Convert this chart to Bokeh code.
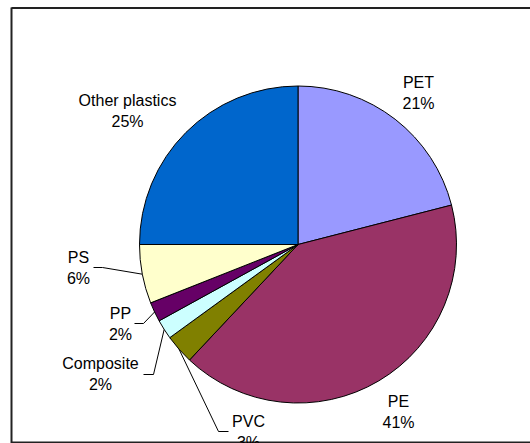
import numpy as np
from bokeh.plotting import figure
from bokeh.models import ColumnDataSource, Range1d
from bokeh.core.properties import value
from bokeh.embed import file_html
from bokeh.resources import INLINE

# ---- data ----
categories = ["PET", "PE", "PVC", "Composite", "PP", "PS", "Other plastics"]
shares = [21, 41, 3, 2, 2, 6, 25]
colors = ["#9999FF", "#993366", "#808000", "#CCFFFF", "#660066", "#FFFFCC", "#0066CC"]

# ---- layout (figure pixel-like coordinates, y up) ----
W, H = 530, 443
cx, cy, R = 297.5, 199.0, 158.5
# label centres (x, y of first line)
label_pos = [(418, 361), (398, 42), (248, 22), (100, 80), (120, 130), (78, 186), (127, 343)]
# leader elbows for small slices: (text-side end, elbow)
leaders = {
    "PVC": [(228, 12), (218, 12)],
    "Composite": [(143, 69), (153, 69)],
    "PP": [(134, 120), (143, 120)],
    "PS": [(93, 176), (102, 176)],
}
line_gap = 21

vals = np.array(shares, dtype=float)
frac = vals / vals.sum()
cum_end = np.cumsum(frac)
cum_start = cum_end - frac
start_angle = np.pi / 2 - 2 * np.pi * cum_end
end_angle = np.pi / 2 - 2 * np.pi * cum_start

src = ColumnDataSource(dict(cat=categories, start=start_angle, end=end_angle, color=colors))

p = figure(width=W, height=H, output_backend="svg", toolbar_location=None,
           x_range=Range1d(0, W), y_range=Range1d(0, H), min_border=0)
p.axis.visible = False
p.grid.visible = False
p.outline_line_color = None
p.background_fill_color = "white"
p.border_fill_color = "white"

# chart area frame (left, top, bottom visible)
p.multi_line(xs=[[11, 11], [11, W], [11, W]], ys=[[0, 436], [435.5, 435.5], [1, 1]],
             line_color="#222222", line_width=2)

p.wedge(x=cx, y=cy, radius=R, start_angle="start", end_angle="end",
        fill_color="color", line_color="black", line_width=1, source=src)

# leader lines
mid = (start_angle + end_angle) / 2
for i, c in enumerate(categories):
    if c in leaders:
        ex = cx + R * np.cos(mid[i])
        ey = cy + R * np.sin(mid[i])
        pts = leaders[c] + [(ex, ey)]
        p.line([q[0] for q in pts], [q[1] for q in pts], line_color="black", line_width=1)

names_x = [lp[0] for lp in label_pos]
names_y = [lp[1] for lp in label_pos]
pct_y = [lp[1] - line_gap for lp in label_pos]
pct_txt = [f"{int(round(f * 100))}%" for f in frac]

p.text(x=names_x, y=names_y, text=categories, text_align="center", text_baseline="middle",
       text_font=value("Liberation Sans"), text_font_size="16px", text_color="black")
p.text(x=names_x, y=pct_y, text=pct_txt, text_align="center", text_baseline="middle",
       text_font=value("Liberation Sans"), text_font_size="16px", text_color="black")

open("out.html", "w").write(file_html(p, INLINE))
